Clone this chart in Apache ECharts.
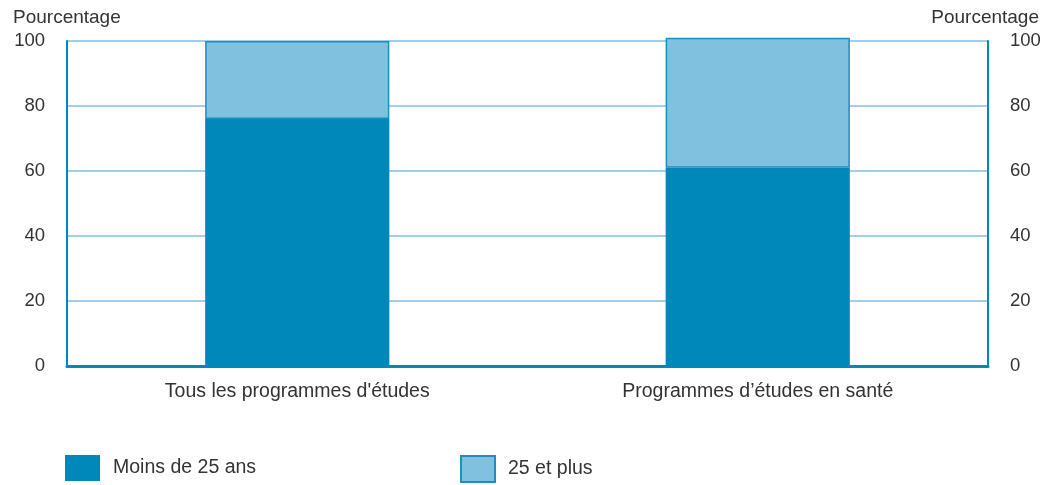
<!DOCTYPE html>
<html>
<head>
<meta charset="utf-8" />
<title>Pourcentage selon l'âge</title>
<script src="https://cdn.jsdelivr.net/npm/echarts@6/dist/echarts.min.js"></script>
<style>
  html, body { margin: 0; padding: 0; background: #fff; }
  #main { width: 1057px; height: 485px; }
</style>
</head>
<body>
<div id="main"></div>
<script>
var categories = ["Tous les programmes d'études", "Programmes d\u2019études en santé"];
var moins25 = [76, 61];
var plus25 = [24, 40];
var yTicks = [0, 20, 40, 60, 80, 100];

var dark = '#0088bb';
var light = '#80c1df';
var font = 'Liberation Sans, Arial, sans-serif';

var chart = echarts.init(document.getElementById('main'));

var yAxisBase = {
    type: 'value',
    min: yTicks[0],
    max: yTicks[yTicks.length - 1],
    interval: yTicks[1] - yTicks[0],
    axisLine: { show: true, lineStyle: { color: dark, width: 2 } },
    axisTick: { show: false },
    axisLabel: { color: '#333', fontSize: 18.5, fontFamily: font, margin: 22, padding: [5, 0, 0, 0] }
};

var option = {
    animation: false,
    grid: { left: 67, right: 69, top: 41, bottom: 119 },
    graphic: [
        { type: 'text', left: 13, top: 8, style: { text: 'Pourcentage', fill: '#333', font: '19px ' + font } },
        { type: 'text', right: 18, top: 8, style: { text: 'Pourcentage', fill: '#333', font: '19px ' + font } }
    ],
    legend: [
        {
            data: ['Moins de 25 ans'],
            left: 60, top: 450,
            icon: 'rect',
            itemWidth: 35, itemHeight: 26,
            textStyle: { color: '#333', fontSize: 19.5, fontFamily: font, padding: [2, 0, 0, 8] }
        },
        {
            data: ['25 et plus'],
            left: 455, top: 450,
            icon: 'rect',
            itemWidth: 34, itemHeight: 26,
            textStyle: { color: '#333', fontSize: 19.5, fontFamily: font, padding: [2, 0, 0, 8] }
        }
    ],
    xAxis: [
        {
            type: 'category',
            data: categories,
            z: 5,
            axisLine: { lineStyle: { color: dark, width: 3 } },
            axisTick: { show: false },
            axisLabel: { color: '#333', fontSize: 19.5, fontFamily: font, margin: 16 }
        },
        {
            type: 'category',
            position: 'top',
            data: categories,
            z: 5,
            axisLine: { lineStyle: { color: dark, width: 2 } },
            axisTick: { show: false },
            axisLabel: { show: false }
        }
    ],
    yAxis: [
        Object.assign({}, yAxisBase, {
            position: 'left',
            splitLine: { show: true, lineStyle: { color: light, width: 1.5 } }
        }),
        Object.assign({}, yAxisBase, {
            position: 'right',
            splitLine: { show: false }
        })
    ],
    series: [
        {
            name: 'Moins de 25 ans',
            type: 'bar',
            stack: 'total',
            barWidth: '40%',
            clip: false,
            data: moins25,
            itemStyle: { color: dark }
        },
        {
            name: '25 et plus',
            type: 'bar',
            stack: 'total',
            barWidth: '40%',
            clip: false,
            data: plus25,
            itemStyle: { color: light, borderColor: '#1a8fc0', borderWidth: 1.5 }
        }
    ]
};

chart.setOption(option);
</script>
</body>
</html>
